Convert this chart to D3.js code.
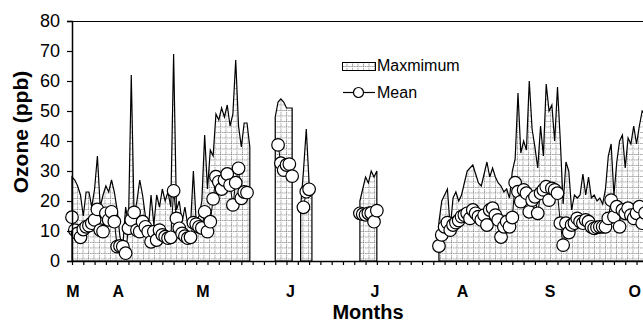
<!DOCTYPE html>
<html>
<head>
<meta charset="utf-8">
<script src="https://cdn.jsdelivr.net/npm/d3@7"></script>
<style>
  body { margin: 0; background: #fff; }
  svg { display: block; font-family: Arial, "Liberation Sans", sans-serif; }
</style>
</head>
<body>
<script>
// first day of the record, every run is counted from here (in days)
const firstDay = new Date(Date.UTC(2004, 2, 16));

// the record has gaps: each run starts at this day offset
const runStart = [0, 72, 81, 102, 130];

// daily maximum ozone (ppb), one array per run
const maxRuns = [
  [28, 27, 25, 22, 15, 23, 23, 18, 24, 35, 18, 22, 25, 23, 27, 23,
   17, 8, 5, 18, 12, 62, 15, 20, 27, 22, 15, 10, 22, 12, 22, 18,
   24, 20, 23, 18, 69, 17, 20, 13, 18, 12, 12, 30, 13, 15, 20, 42,
   24, 37, 35, 49, 47, 51, 48, 52, 45, 49, 67, 45, 38, 46, 46, 38],
  [48, 53, 54, 53, 51, 51, 51],
  [18, 30, 44, 26, 22],
  [20, 24, 28, 26, 30, 28, 30],
  [13, 20, 22, 24, 11, 21, 23, 20, 22, 26, 30, 31, 32, 29, 26, 25,
   29, 33, 28, 31, 28, 26, 25, 23, 24, 21, 30, 34, 56, 36, 40, 37,
   60, 44, 38, 31, 45, 35, 59, 50, 52, 40, 58, 40, 19, 33, 30, 17,
   22, 21, 22, 29, 22, 28, 21, 22, 20, 21, 19, 24, 35, 39, 22, 33,
   40, 42, 31, 41, 39, 45, 39, 45, 50, 49]
];

// daily mean ozone (ppb), same runs, null where no mean was plotted
const meanRuns = [
  [14.6, 10.3, 9.2, 7.9, 10.5, 11.4, 11.8, 12.6, 13.7, 17.2, 10.3, 9.8, 15.9, 13.7, 16.4, 13.1,
   4.8, 5, 4.8, 2.6, 10.9, 13.7, 16.2, 10.3, 9.8, 13.1, 11.4, 9.8, 6.4, 9.8, 7, 10.3,
   8.7, 8.1, 7.6, 7.9, 23.4, 14.2, 10.9, 9.2, 8.3, 7.6, 7.9, 12.8, 12.3, 11.4, 11, 16.4,
   9.8, 13.1, 20.7, 28.1, 26.4, 24, 27, 29, 25.3, 18.7, 26.1, 30.9, 20.9, 23, 22.8, null],
  [null, 38.7, 32.6, 30.3, 32, 32.3, 28.3],
  [null, 17.9, 23.1, 23.9, null],
  [15.9, 15.6, 15.4, 15.9, 16, 13.1, 16.8],
  [5, 8.7, 11.4, 12.8, 10.3, 12, 12.8, 13.5, 14.8, 15.3, 15.9, 14.2, 17, 15.9, 14.8, 13.7,
   15.3, 12, 17, 17.6, 15.3, 13.7, 8, 11.4, 13.1, 11.4, 14.5, 26.1, 23.1, 19.8, 23.7, 22.6,
   16.4, 20.3, 21.4, 15.9, 22.6, 23.7, 24.8, 20.3, 24.2, 23.7, 22.6, 12.6, 5.3, 12.6, 9.5, 12,
   12.6, 14.2, 13.1, 12.6, 13.7, 13.1, 11.4, 10.9, 11.2, 11.4, 11.4, 11.4, 14.2, 20.3, 14.8, 18.1,
   11.4, 17, 15.9, 17.6, 15.3, 14.2, 15.9, 18.1, 12.6, 16]
];

const monthDates = ['2004-03-16', '2004-04-01', '2004-05-01', '2004-06-01',
                    '2004-07-01', '2004-08-01', '2004-09-01', '2004-10-01'];
const monthLabels = ['M', 'A', 'M', 'J', 'J', 'A', 'S', 'O'];
const yTicks = [0, 10, 20, 30, 40, 50, 60, 70, 80];

const W = 643, H = 324;
const plotLeft = 72, plotTop = 21, plotBottom = 261;

const svg = d3.select('body').append('svg').attr('width', W).attr('height', H);

// stippled grid fill like the excel pattern
const defs = svg.append('defs');
const pat = defs.append('pattern')
  .attr('id', 'stipple')
  .attr('patternUnits', 'userSpaceOnUse')
  .attr('width', 5.5)
  .attr('height', 5.5);
pat.append('rect').attr('width', 5.5).attr('height', 5.5).attr('fill', '#fff');
pat.append('path')
  .attr('d', 'M0,0.5H5.5M0.5,0V5.5')
  .attr('stroke', '#777')
  .attr('stroke-width', 1)
  .attr('stroke-dasharray', '1,1');

const x = d3.scaleUtc()
  .domain([firstDay, d3.utcDay.offset(firstDay, 203)])
  .range([plotLeft, 645]);
const y = d3.scaleLinear().domain([0, 80]).range([plotBottom, plotTop]);

// one object per day, grouped by run
const runs = runStart.map((s, r) => maxRuns[r].map((v, i) => ({
  date: d3.utcDay.offset(firstDay, s + i),
  max: v,
  mean: meanRuns[r][i]
})));

const area = d3.area()
  .x(d => x(d.date))
  .y0(y(0))
  .y1(d => y(d.max));

svg.append('g')
  .selectAll('path')
  .data(runs)
  .join('path')
  .attr('d', area)
  .attr('fill', 'url(#stipple)')
  .attr('stroke', '#000')
  .attr('stroke-width', 1.2)
  .attr('stroke-linejoin', 'miter');

// mean line sits under the circles
const meanLine = d3.line()
  .defined(d => d.mean != null)
  .x(d => x(d.date))
  .y(d => y(d.mean));

svg.append('g')
  .selectAll('path')
  .data(runs)
  .join('path')
  .attr('d', meanLine)
  .attr('fill', 'none')
  .attr('stroke', '#000')
  .attr('stroke-width', 1);

svg.append('g')
  .selectAll('circle')
  .data(runs.flat().filter(d => d.mean != null))
  .join('circle')
  .attr('cx', d => x(d.date))
  .attr('cy', d => y(d.mean))
  .attr('r', 6.3)
  .attr('fill', '#fff')
  .attr('stroke', '#000')
  .attr('stroke-width', 1.2);

// top frame line
svg.append('line')
  .attr('x1', plotLeft).attr('x2', W)
  .attr('y1', plotTop + 0.5).attr('y2', plotTop + 0.5)
  .attr('stroke', '#000')
  .attr('stroke-width', 1.2);

// y axis
const yAxis = svg.append('g')
  .attr('transform', `translate(${plotLeft},0)`)
  .call(d3.axisLeft(y).tickValues(yTicks).tickSize(5).tickPadding(7));
yAxis.select('.domain').attr('stroke-width', 1.5);
yAxis.selectAll('line').attr('stroke-width', 1.2);
yAxis.selectAll('text').attr('font-size', 18).attr('font-family', 'Arial, "Liberation Sans", sans-serif').attr('fill', '#000');

// x axis: minor ticks every 4 days
const xAxis = svg.append('g')
  .attr('transform', `translate(0,${plotBottom})`)
  .call(d3.axisBottom(x)
    .tickValues(d3.range(0, 204, 4).map(d => d3.utcDay.offset(firstDay, d)))
    .tickSize(4)
    .tickSizeOuter(0)
    .tickFormat(''));
xAxis.select('.domain').attr('stroke-width', 1.5);
xAxis.selectAll('line').attr('stroke-width', 1.2);

// month letters
svg.append('g')
  .selectAll('text')
  .data(monthDates)
  .join('text')
  .attr('x', d => x(new Date(d + 'T00:00:00Z')) + 1)
  .attr('y', 296.5)
  .attr('text-anchor', 'middle')
  .attr('font-size', 16)
  .attr('font-weight', 'bold')
  .text((d, i) => monthLabels[i]);

svg.append('text')
  .attr('x', 368)
  .attr('y', 319)
  .attr('text-anchor', 'middle')
  .attr('font-size', 20)
  .attr('font-weight', 'bold')
  .text('Months');

svg.append('text')
  .attr('transform', 'translate(28,132) rotate(-90)')
  .attr('text-anchor', 'middle')
  .attr('font-size', 21)
  .attr('font-weight', 'bold')
  .text('Ozone (ppb)');

// legend
const lg = svg.append('g');
lg.append('rect')
  .attr('x', 342.5).attr('y', 62.5)
  .attr('width', 33).attr('height', 8)
  .attr('fill', 'url(#stipple)')
  .attr('stroke', '#000');
lg.append('text').attr('x', 377).attr('y', 71).attr('font-size', 16).text('Maxmimum');
lg.append('line')
  .attr('x1', 343).attr('x2', 375)
  .attr('y1', 92.5).attr('y2', 92.5)
  .attr('stroke', '#000').attr('stroke-width', 1.2);
lg.append('circle')
  .attr('cx', 358.5).attr('cy', 92.5).attr('r', 5)
  .attr('fill', '#fff').attr('stroke', '#000').attr('stroke-width', 1.2);
lg.append('text').attr('x', 377).attr('y', 98).attr('font-size', 16).text('Mean');
</script>
</body>
</html>
